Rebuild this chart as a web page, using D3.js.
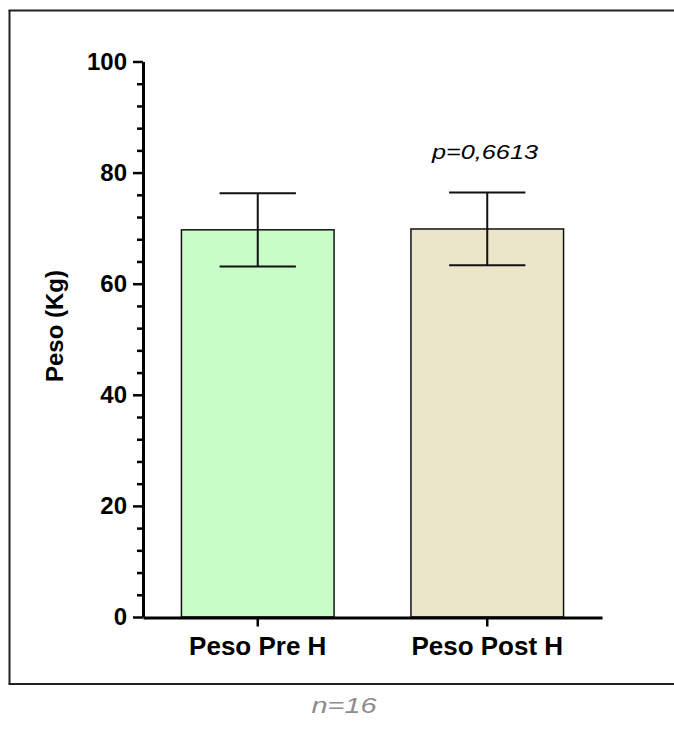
<!DOCTYPE html>
<html>
<head>
<meta charset="utf-8">
<script src="https://cdn.jsdelivr.net/npm/d3@7"></script>
<style>
  html, body { margin: 0; padding: 0; background: #fff; overflow: hidden; }
  svg { display: block; font-family: "Liberation Sans", Arial, sans-serif; }
</style>
</head>
<body>
<script>
const categories = ['Peso Pre H', 'Peso Post H'];
const means = [69.7, 69.85];
const errors = [6.6, 6.55];
const fills = ['#c8fdc8', '#ebe5ca'];
const yTicks = [0, 20, 40, 60, 80, 100];
const pLabel = 'p=0,6613';
const nLabel = 'n=16';

const width = 674;
const height = 731;

const svg = d3.select('body')
  .append('svg')
  .attr('width', width)
  .attr('height', height);

// outer frame: left, top and bottom only (right side runs off the page)
svg.append('line').attr('x1', 8.5).attr('x2', 680).attr('y1', 10.5).attr('y2', 10.5)
  .attr('stroke', '#222').attr('stroke-width', 2);
svg.append('line').attr('x1', 8.5).attr('x2', 680).attr('y1', 684).attr('y2', 684)
  .attr('stroke', '#222').attr('stroke-width', 2);
svg.append('line').attr('x1', 9.5).attr('x2', 9.5).attr('y1', 10.5).attr('y2', 684)
  .attr('stroke', '#222').attr('stroke-width', 2);

const xScale = d3.scaleBand()
  .domain(categories)
  .range([143, 602])
  .paddingInner(0.335)
  .paddingOuter(0.1675);

const yScale = d3.scaleLinear()
  .domain([0, 100])
  .range([617, 61.5]);

// bars
svg.selectAll('.bar').data(categories)
  .enter()
  .append('rect')
  .attr('class', 'bar')
  .attr('x', d => xScale(d))
  .attr('width', xScale.bandwidth())
  .attr('y', (d, i) => yScale(means[i]))
  .attr('height', (d, i) => yScale(0) - yScale(means[i]))
  .attr('fill', (d, i) => fills[i])
  .attr('stroke', '#111')
  .attr('stroke-width', 1.5);

// error bars
const capW = xScale.bandwidth() / 4;
const err = svg.selectAll('.err').data(categories)
  .enter()
  .append('g')
  .attr('class', 'err')
  .attr('stroke', '#111')
  .attr('stroke-width', 2);

err.append('line')
  .attr('x1', d => xScale(d) + xScale.bandwidth() / 2)
  .attr('x2', d => xScale(d) + xScale.bandwidth() / 2)
  .attr('y1', (d, i) => yScale(means[i] - errors[i]))
  .attr('y2', (d, i) => yScale(means[i] + errors[i]));

err.append('line')
  .attr('x1', d => xScale(d) + xScale.bandwidth() / 2 - capW)
  .attr('x2', d => xScale(d) + xScale.bandwidth() / 2 + capW)
  .attr('y1', (d, i) => yScale(means[i] + errors[i]))
  .attr('y2', (d, i) => yScale(means[i] + errors[i]));

err.append('line')
  .attr('x1', d => xScale(d) + xScale.bandwidth() / 2 - capW)
  .attr('x2', d => xScale(d) + xScale.bandwidth() / 2 + capW)
  .attr('y1', (d, i) => yScale(means[i] - errors[i]))
  .attr('y2', (d, i) => yScale(means[i] - errors[i]));

// y axis: minor ticks first, then major ticks with labels
const minorAxis = d3.axisLeft(yScale)
  .tickValues(d3.range(0, 101, 4).filter(v => v % 20 !== 0))
  .tickSize(6)
  .tickFormat('');

svg.append('g')
  .attr('class', 'y minor')
  .attr('transform', 'translate(143, 0)')
  .call(minorAxis)
  .call(g => g.select('.domain').remove())
  .call(g => g.selectAll('line').attr('stroke', '#000').attr('stroke-width', 2.5));

const yAxis = d3.axisLeft(yScale)
  .tickValues(yTicks)
  .tickSize(10)
  .tickSizeOuter(0)
  .tickPadding(6);

svg.append('g')
  .attr('class', 'y axis')
  .attr('transform', 'translate(143, 0)')
  .call(yAxis)
  .call(g => g.select('.domain').attr('stroke', '#000').attr('stroke-width', 3))
  .call(g => g.selectAll('line').attr('stroke', '#000').attr('stroke-width', 2.5))
  .call(g => g.selectAll('text')
    .attr('fill', '#000')
    .style('font-size', '24px')
    .style('font-weight', 'bold')
    .style('font-family', '"Liberation Sans", Arial, sans-serif'));

// x axis
const xAxis = d3.axisBottom(xScale)
  .tickSize(9)
  .tickSizeOuter(0)
  .tickPadding(10);

svg.append('g')
  .attr('class', 'x axis')
  .attr('transform', 'translate(0, 617.5)')
  .call(xAxis)
  .call(g => g.select('.domain').attr('stroke', '#000').attr('stroke-width', 3))
  .call(g => g.selectAll('line').attr('stroke', '#000').attr('stroke-width', 2.5))
  .call(g => g.selectAll('text')
    .attr('fill', '#000')
    .style('font-size', '26px')
    .style('font-weight', 'bold')
    .style('font-family', '"Liberation Sans", Arial, sans-serif'));

// y axis title
svg.append('text')
  .attr('transform', 'translate(63, 326) rotate(-90)')
  .style('text-anchor', 'middle')
  .style('font-size', '24px')
  .style('font-weight', 'bold')
  .text('Peso (Kg)');

// p-value annotation
svg.append('text')
  .attr('x', 485)
  .attr('y', 159)
  .attr('textLength', 106)
  .attr('lengthAdjust', 'spacingAndGlyphs')
  .style('text-anchor', 'middle')
  .style('font-size', '21px')
  .style('font-style', 'italic')
  .text(pLabel);

// sample size
svg.append('text')
  .attr('x', 344)
  .attr('y', 713)
  .attr('textLength', 65)
  .attr('lengthAdjust', 'spacingAndGlyphs')
  .style('text-anchor', 'middle')
  .style('font-size', '22px')
  .style('font-style', 'italic')
  .style('fill', '#8c8c8c')
  .text(nLabel);
</script>
</body>
</html>
